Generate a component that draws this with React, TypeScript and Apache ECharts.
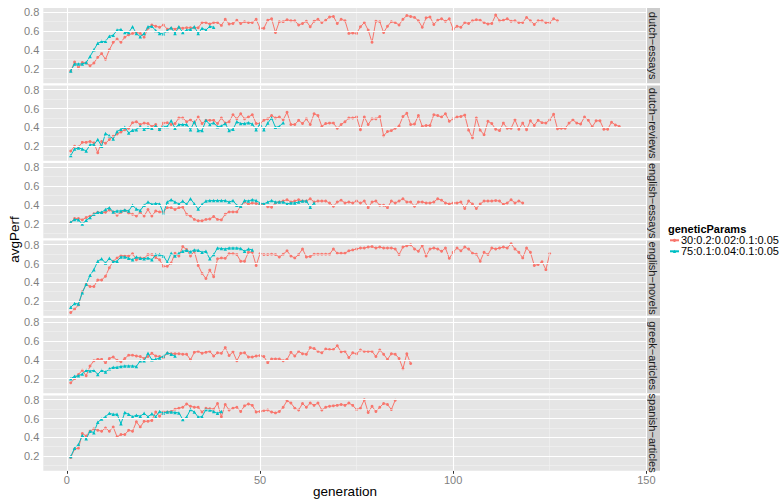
import React, { useEffect, useRef } from "react";
import * as echarts from "echarts";

const FONT = "'Liberation Sans', Arial, Helvetica, sans-serif";

const facets = [
  "dutch−essays",
  "dutch−reviews",
  "english−essays",
  "english−novels",
  "greek−articles",
  "spanish−articles",
];
const paramsA = "30:0.2:0.02:0.1:0.05";
const paramsB = "75:0.1:0.04:0.1:0.05";
const colorA = "#F8766D";
const colorB = "#00BFC4";

const xTicks = [0, 50, 100, 150];
const xMinor = [25, 75, 125];
const yTicks = [0.2, 0.4, 0.6, 0.8];
const yMinor = [0.1, 0.3, 0.5, 0.7];

// dutch-essays
const dutchEssaysA = [
  0.175, 0.27, 0.21, 0.265, 0.26, 0.23, 0.26, 0.32, 0.36, 0.3,
  0.4, 0.48, 0.515, 0.48, 0.535, 0.56, 0.575, 0.585, 0.575, 0.535,
  0.63, 0.665, 0.65, 0.64, 0.665, 0.62, 0.63, 0.62, 0.635, 0.63,
  0.635, 0.635, 0.635, 0.635, 0.69, 0.69, 0.675, 0.69, 0.69, 0.66,
  0.725, 0.675, 0.68, 0.715, 0.68, 0.7, 0.69, 0.69, 0.725, 0.63,
  0.63, 0.715, 0.73, 0.585, 0.7, 0.7, 0.72, 0.71, 0.71, 0.665,
  0.68, 0.705, 0.645, 0.705, 0.725, 0.69, 0.715, 0.75, 0.755, 0.68,
  0.725, 0.71, 0.575, 0.58, 0.575, 0.645, 0.69, 0.61, 0.48, 0.705,
  0.7, 0.585, 0.65, 0.7, 0.69, 0.665, 0.725, 0.765, 0.755, 0.745,
  0.71, 0.64, 0.74, 0.75, 0.67, 0.715, 0.73, 0.705, 0.73, 0.62,
  0.65, 0.64, 0.69, 0.68, 0.71, 0.72, 0.715, 0.69, 0.675, 0.68,
  0.77, 0.71, 0.715, 0.73, 0.705, 0.71, 0.69, 0.69, 0.745, 0.71,
  0.67, 0.71, 0.71, 0.69, 0.69, 0.73, 0.71,
];
const dutchEssaysB = [
  0.175, 0.25, 0.25, 0.25, 0.265, 0.33, 0.4, 0.47, 0.49, 0.49,
  0.545, 0.555, 0.61, 0.615, 0.585, 0.585, 0.645, 0.575, 0.54, 0.575,
  0.645, 0.65, 0.605, 0.575, 0.57, 0.605, 0.635, 0.575, 0.645, 0.585,
  0.61, 0.615, 0.645, 0.575, 0.63, 0.61, 0.65, 0.64,
];

// dutch-reviews
const dutchReviewsA = [
  0.147, 0.2, 0.19, 0.24, 0.24, 0.25, 0.235, 0.13, 0.25, 0.23,
  0.27, 0.305, 0.33, 0.35, 0.375, 0.39, 0.45, 0.46, 0.43, 0.445,
  0.44, 0.41, 0.43, 0.375, 0.445, 0.45, 0.43, 0.44, 0.5, 0.5,
  0.46, 0.48, 0.445, 0.51, 0.44, 0.475, 0.475, 0.475, 0.44, 0.5,
  0.445, 0.46, 0.535, 0.49, 0.545, 0.49, 0.51, 0.535, 0.44, 0.44,
  0.475, 0.49, 0.525, 0.5, 0.51, 0.48, 0.56, 0.43, 0.43, 0.475,
  0.44, 0.49, 0.43, 0.545, 0.525, 0.41, 0.44, 0.445, 0.445, 0.39,
  0.43, 0.46, 0.5, 0.5, 0.51, 0.375, 0.51, 0.43, 0.49, 0.49,
  0.515, 0.31, 0.355, 0.365, 0.39, 0.415, 0.515, 0.55, 0.43, 0.435,
  0.525, 0.41, 0.42, 0.42, 0.535, 0.525, 0.51, 0.545, 0.465, 0.49,
  0.51, 0.515, 0.53, 0.37, 0.29, 0.5, 0.37, 0.32, 0.465, 0.44,
  0.38, 0.365, 0.445, 0.39, 0.39, 0.48, 0.38, 0.445, 0.375, 0.47,
  0.42, 0.475, 0.45, 0.445, 0.48, 0.54, 0.385, 0.39, 0.39, 0.445,
  0.48, 0.445, 0.435, 0.51, 0.475, 0.405, 0.47, 0.47, 0.38, 0.38,
  0.455, 0.425, 0.41,
];
const dutchReviewsB = [
  0.1, 0.17, 0.18, 0.17, 0.147, 0.215, 0.215, 0.27, 0.2, 0.335,
  0.31, 0.275, 0.355, 0.38, 0.4, 0.34, 0.37, 0.375, 0.41, 0.38,
  0.4, 0.39, 0.415, 0.38, 0.41, 0.41, 0.47, 0.39, 0.43, 0.43,
  0.43, 0.375, 0.46, 0.365, 0.365, 0.475, 0.43, 0.45, 0.405, 0.415,
  0.44, 0.365, 0.38, 0.46, 0.44, 0.44, 0.45, 0.435, 0.375, 0.435,
  0.375, 0.445, 0.5, 0.4, 0.41, 0.45,
];

// english-essays
const englishEssaysA = [
  0.21, 0.255, 0.255, 0.24, 0.265, 0.28, 0.305, 0.32, 0.315, 0.32,
  0.345, 0.325, 0.29, 0.32, 0.34, 0.31, 0.3, 0.28, 0.32, 0.28,
  0.35, 0.28, 0.335, 0.325, 0.325, 0.37, 0.37, 0.35, 0.37, 0.375,
  0.3, 0.28, 0.245, 0.23, 0.23, 0.245, 0.25, 0.275, 0.245, 0.24,
  0.3, 0.325, 0.325, 0.325, 0.385, 0.43, 0.405, 0.42, 0.415, 0.405,
  0.405, 0.38, 0.375, 0.42, 0.43, 0.44, 0.455, 0.43, 0.44, 0.455,
  0.44, 0.44, 0.465, 0.43, 0.44, 0.44, 0.44, 0.42, 0.385, 0.43,
  0.45, 0.42, 0.43, 0.42, 0.44, 0.42, 0.44, 0.37, 0.43, 0.44,
  0.395, 0.395, 0.37, 0.44, 0.42, 0.44, 0.465, 0.43, 0.43, 0.385,
  0.43, 0.43, 0.42, 0.42, 0.43, 0.465, 0.45, 0.42, 0.41, 0.42,
  0.42, 0.43, 0.36, 0.44, 0.41, 0.36, 0.41, 0.44, 0.44, 0.44,
  0.445, 0.44, 0.405, 0.42, 0.455, 0.42, 0.44, 0.42,
];
const englishEssaysB = [
  0.215, 0.245, 0.24, 0.195, 0.235, 0.265, 0.3, 0.32, 0.32, 0.35,
  0.37, 0.325, 0.335, 0.335, 0.345, 0.335, 0.395, 0.355, 0.34, 0.395,
  0.43, 0.405, 0.415, 0.41, 0.31, 0.43, 0.455, 0.43, 0.41, 0.44,
  0.405, 0.465, 0.41, 0.355, 0.405, 0.44, 0.445, 0.445, 0.445, 0.445,
  0.445, 0.43, 0.445, 0.395, 0.385, 0.445, 0.44, 0.455, 0.445, 0.42,
  0.41, 0.43, 0.445, 0.43, 0.43, 0.43, 0.41, 0.42, 0.42, 0.43,
  0.44, 0.44, 0.375, 0.42,
];

// english-novels
const englishNovelsA = [
  0.08, 0.115, 0.16, 0.3, 0.38, 0.355, 0.355, 0.425, 0.425, 0.465,
  0.555, 0.625, 0.66, 0.685, 0.68, 0.68, 0.705, 0.64, 0.66, 0.655,
  0.695, 0.695, 0.665, 0.64, 0.57, 0.57, 0.605, 0.71, 0.68, 0.78,
  0.75, 0.68, 0.73, 0.58, 0.495, 0.44, 0.53, 0.46, 0.65, 0.66,
  0.655, 0.705, 0.705, 0.695, 0.625, 0.625, 0.72, 0.72, 0.58, 0.705,
  0.695, 0.695, 0.7, 0.695, 0.67, 0.7, 0.735, 0.68, 0.66, 0.695,
  0.755, 0.67, 0.675, 0.7, 0.7, 0.7, 0.7, 0.7, 0.755, 0.71,
  0.71, 0.71, 0.735, 0.745, 0.755, 0.765, 0.765, 0.775, 0.78, 0.765,
  0.775, 0.765, 0.765, 0.765, 0.755, 0.695, 0.775, 0.79, 0.8, 0.755,
  0.73, 0.79, 0.68, 0.755, 0.765, 0.755, 0.73, 0.765, 0.655, 0.72,
  0.765, 0.735, 0.775, 0.755, 0.71, 0.7, 0.625, 0.72, 0.695, 0.765,
  0.755, 0.765, 0.775, 0.765, 0.81, 0.755, 0.72, 0.66, 0.765, 0.72,
  0.58, 0.59, 0.62, 0.535, 0.705,
];
const englishNovelsB = [
  0.135, 0.175, 0.17, 0.29, 0.38, 0.475, 0.535, 0.625, 0.65, 0.605,
  0.655, 0.62, 0.625, 0.67, 0.67, 0.655, 0.64, 0.67, 0.655, 0.65,
  0.66, 0.64, 0.695, 0.695, 0.68, 0.615, 0.71, 0.68, 0.71, 0.73,
  0.74, 0.725, 0.745, 0.74, 0.72, 0.73, 0.65, 0.695, 0.765, 0.76,
  0.755, 0.765, 0.765, 0.765, 0.76, 0.73, 0.755, 0.745,
];

// greek-articles
const greekArticlesA = [
  0.155, 0.2, 0.245, 0.29, 0.23, 0.335, 0.39, 0.405, 0.405, 0.37,
  0.415, 0.43, 0.395, 0.38, 0.415, 0.45, 0.45, 0.44, 0.435, 0.415,
  0.435, 0.47, 0.44, 0.435, 0.425, 0.47, 0.465, 0.465, 0.465, 0.46,
  0.46, 0.4, 0.48, 0.49, 0.47, 0.48, 0.49, 0.44, 0.475, 0.47,
  0.53, 0.445, 0.485, 0.39, 0.47, 0.475, 0.43, 0.43, 0.44, 0.445,
  0.435, 0.37, 0.41, 0.41, 0.41, 0.39, 0.405, 0.48, 0.44, 0.49,
  0.465, 0.46, 0.53, 0.52, 0.49, 0.475, 0.515, 0.51, 0.51, 0.55,
  0.485, 0.49, 0.425, 0.475, 0.465, 0.505, 0.49, 0.49, 0.49, 0.435,
  0.505, 0.46, 0.405, 0.465, 0.46, 0.415, 0.305, 0.465, 0.36,
];
const greekArticlesB = [
  0.2, 0.225, 0.23, 0.25, 0.29, 0.28, 0.29, 0.245, 0.29, 0.27,
  0.305, 0.32, 0.32, 0.33, 0.335, 0.335, 0.335, 0.33, 0.39, 0.39,
  0.47, 0.4, 0.405, 0.42, 0.44, 0.475, 0.46, 0.44,
];

// spanish-articles
const spanishArticlesA = [
  0.185, 0.275, 0.285, 0.44, 0.415, 0.465, 0.49, 0.475, 0.465, 0.5,
  0.465, 0.51, 0.405, 0.43, 0.43, 0.475, 0.465, 0.565, 0.51, 0.57,
  0.57, 0.58, 0.67, 0.625, 0.67, 0.67, 0.675, 0.7, 0.71, 0.72,
  0.755, 0.73, 0.72, 0.72, 0.67, 0.71, 0.705, 0.7, 0.76, 0.62,
  0.75, 0.69, 0.71, 0.72, 0.675, 0.735, 0.755, 0.74, 0.67, 0.675,
  0.685, 0.69, 0.67, 0.66, 0.675, 0.72, 0.79, 0.765, 0.71, 0.69,
  0.76, 0.72, 0.765, 0.74, 0.765, 0.69, 0.72, 0.73, 0.735, 0.74,
  0.75, 0.74, 0.765, 0.74, 0.695, 0.71, 0.8, 0.665, 0.73, 0.675,
  0.72, 0.76, 0.75, 0.695, 0.795,
];
const spanishArticlesB = [
  0.195, 0.285, 0.325, 0.42, 0.385, 0.465, 0.45, 0.56, 0.595, 0.62,
  0.655, 0.645, 0.645, 0.545, 0.665, 0.645, 0.62, 0.635, 0.625, 0.655,
  0.62, 0.65, 0.62, 0.675, 0.66, 0.67, 0.67, 0.665, 0.66, 0.59,
  0.615, 0.695, 0.67, 0.615, 0.62, 0.695, 0.69, 0.675, 0.655, 0.675,
];

const seriesA = [dutchEssaysA, dutchReviewsA, englishEssaysA, englishNovelsA, greekArticlesA, spanishArticlesA];
const seriesB = [dutchEssaysB, dutchReviewsB, englishEssaysB, englishNovelsB, greekArticlesB, spanishArticlesB];

// layout
const PANEL_LEFT = 43.3;
const PANEL_W = 603.4;
const PANEL_TOP = 8;
const PANEL_H = 75.3;
const PANEL_GAP = 2.2;
const STRIP_W = 13.3;
const X_MIN = -6.1;
const X_MAX = 150.1;
const Y_MIN = 0.044;
const Y_MAX = 0.845;

const toPoints = (vals: number[]) => vals.map((v, i) => [i + 1, v]);

export default function App() {
  const ref = useRef<HTMLDivElement>(null);

  useEffect(() => {
    if (!ref.current) return;
    const chart = echarts.init(ref.current, null, { renderer: "svg" });

    const grids: any[] = [];
    const xAxes: any[] = [];
    const yAxes: any[] = [];
    const series: any[] = [];
    const graphics: any[] = [];

    facets.forEach((name, i) => {
      const top = PANEL_TOP + i * (PANEL_H + PANEL_GAP);
      const isBottom = i === facets.length - 1;
      grids.push({
        left: PANEL_LEFT,
        top,
        width: PANEL_W,
        height: PANEL_H,
        show: true,
        backgroundColor: "#E5E5E5",
        borderWidth: 0,
        containLabel: false,
        outerBoundsMode: "none",
      });
      xAxes.push({
        type: "value",
        gridIndex: i,
        min: X_MIN,
        max: X_MAX,
        axisLine: { show: false },
        splitLine: { show: false },
        minorSplitLine: { show: false },
        axisTick: {
          show: isBottom,
          length: 3,
          customValues: xTicks,
          lineStyle: { color: "#333333", width: 1 },
        },
        axisLabel: {
          show: isBottom,
          customValues: xTicks,
          color: "#7F7F7F",
          fontSize: 11,
          fontFamily: FONT,
          margin: 4,
        },
      });
      yAxes.push({
        type: "value",
        gridIndex: i,
        min: Y_MIN,
        max: Y_MAX,
        axisLine: { show: false },
        splitLine: { show: false },
        minorSplitLine: { show: false },
        axisTick: {
          show: true,
          length: 3,
          customValues: yTicks,
          lineStyle: { color: "#333333", width: 1 },
        },
        axisLabel: {
          customValues: yTicks,
          formatter: (v: number) => v.toFixed(1),
          color: "#7F7F7F",
          fontSize: 11,
          fontFamily: FONT,
          margin: 4,
        },
      });

      const minorStyle = { color: "#F2F2F2", width: 0.6, type: "solid" };
      const majorStyle = { color: "#FFFFFF", width: 1.1, type: "solid" };
      series.push({
        type: "line",
        name: "grid" + i,
        xAxisIndex: i,
        yAxisIndex: i,
        data: [],
        silent: true,
        z: 1,
        markLine: {
          silent: true,
          symbol: ["none", "none"],
          label: { show: false },
          emphasis: { disabled: true },
          animation: false,
          lineStyle: { type: "solid" },
          data: [
            ...xMinor.map((v) => ({ xAxis: v, lineStyle: minorStyle })),
            ...yMinor.map((v) => ({ yAxis: v, lineStyle: minorStyle })),
            ...xTicks.map((v) => ({ xAxis: v, lineStyle: majorStyle })),
            ...yTicks.map((v) => ({ yAxis: v, lineStyle: majorStyle })),
          ],
        },
      });

      series.push({
        type: "line",
        name: paramsA,
        xAxisIndex: i,
        yAxisIndex: i,
        data: toPoints(seriesA[i]),
        symbol: "circle",
        symbolSize: 2.9,
        showSymbol: true,
        lineStyle: { color: colorA, width: 1 },
        itemStyle: { color: colorA },
        emphasis: { disabled: true },
        silent: true,
        z: 2,
      });
      series.push({
        type: "line",
        name: paramsB,
        xAxisIndex: i,
        yAxisIndex: i,
        data: toPoints(seriesB[i]),
        symbol: "triangle",
        symbolSize: 3.5,
        showSymbol: true,
        lineStyle: { color: colorB, width: 1 },
        itemStyle: { color: colorB },
        emphasis: { disabled: true },
        silent: true,
        z: 3,
      });

      graphics.push({
        type: "rect",
        shape: { x: PANEL_LEFT + PANEL_W, y: top, width: STRIP_W, height: PANEL_H },
        style: { fill: "#CCCCCC" },
        silent: true,
      });
      graphics.push({
        type: "text",
        x: PANEL_LEFT + PANEL_W + STRIP_W / 2,
        y: top + PANEL_H / 2,
        rotation: -Math.PI / 2,
        silent: true,
        style: {
          text: name,
          textAlign: "center",
          textVerticalAlign: "middle",
          fontSize: 11,
          fontFamily: FONT,
          fill: "#1A1A1A",
        },
      });
    });

    graphics.push({
      type: "text",
      x: PANEL_LEFT + PANEL_W / 2,
      y: 491,
      silent: true,
      style: {
        text: "generation",
        textAlign: "center",
        textVerticalAlign: "middle",
        fontSize: 13.5,
        fontFamily: FONT,
        fill: "#000000",
      },
    });
    graphics.push({
      type: "text",
      x: 14,
      y: PANEL_TOP + (6 * PANEL_H + 5 * PANEL_GAP) / 2,
      rotation: Math.PI / 2,
      silent: true,
      style: {
        text: "avgPerf",
        textAlign: "center",
        textVerticalAlign: "middle",
        fontSize: 13.5,
        fontFamily: FONT,
        fill: "#000000",
      },
    });
    graphics.push({
      type: "text",
      x: 668,
      y: 229,
      silent: true,
      style: {
        text: "geneticParams",
        textAlign: "left",
        textVerticalAlign: "middle",
        fontSize: 11,
        fontWeight: "bold",
        fontFamily: FONT,
        fill: "#000000",
      },
    });

    chart.setOption({
      animation: false,
      backgroundColor: "#FFFFFF",
      grid: grids,
      xAxis: xAxes,
      yAxis: yAxes,
      series,
      legend: {
        orient: "vertical",
        left: 669,
        top: 234.8,
        itemWidth: 9,
        itemHeight: 4,
        itemGap: 0,
        selectedMode: false,
        padding: 0,
        textStyle: {
          fontSize: 11,
          lineHeight: 9,
          color: "#000000",
          fontFamily: FONT,
          padding: [0, 0, 0, -3],
        },
        data: [paramsA, paramsB],
      },
      graphic: graphics,
    });

    return () => chart.dispose();
  }, []);

  return (
    <div
      ref={ref}
      style={{ position: "fixed", left: 0, top: 0, width: 779, height: 500, background: "#FFFFFF" }}
    />
  );
}
